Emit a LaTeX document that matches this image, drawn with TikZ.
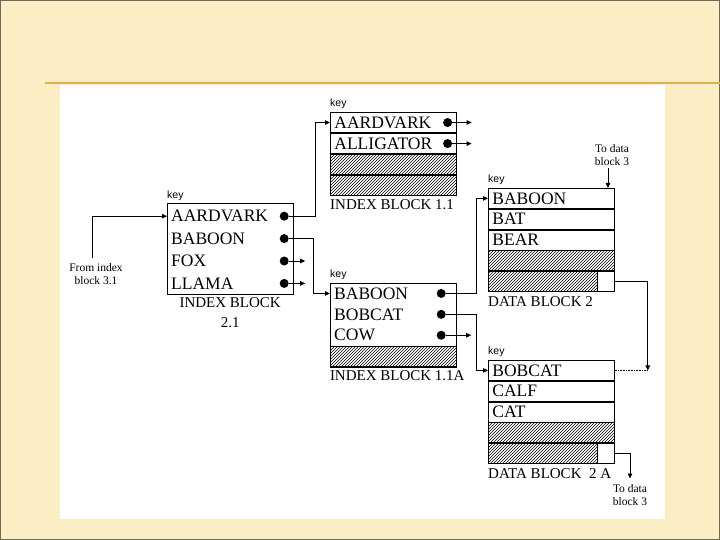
\documentclass[tikz,border=0pt]{standalone}
\usepackage{fontspec}
\setmainfont{Liberation Serif}
\setsansfont{Liberation Sans}
\usepackage{tikz}
\usetikzlibrary{positioning,arrows.meta,patterns}
\definecolor{slidecream}{HTML}{FBEDC4}
\definecolor{slideedge}{HTML}{6F6A55}
\definecolor{slideline}{HTML}{E6AE52}

\begin{document}
\begin{tikzpicture}[
    x=1pt, y=-1pt,
    node distance=0pt,
    row/.style={minimum width=126pt, minimum height=20pt, inner sep=0pt, text width=118pt, align=left, font=\fontsize{17.5}{17.5}\selectfont},
    cell/.style={row, draw, line width=0.8pt},
    hatch/.style={cell, pattern=north east lines},
    ptrbox/.style={draw, line width=0.8pt, fill=white, minimum width=17pt, minimum height=20pt, inner sep=0pt},
    dot/.style={circle, fill=black, inner sep=0pt, minimum size=9pt},
    keylbl/.style={font=\sffamily\fontsize{10.5}{10.5}\selectfont, inner sep=0pt},
    blocklbl/.style={font=\fontsize{15}{20}\selectfont, inner sep=0pt, align=center},
    note/.style={font=\fontsize{11.5}{12.5}\selectfont, inner sep=0pt, align=center},
    arrow/.style={-{Triangle[length=5pt, width=4.5pt]}, line width=0.8pt}
]

% slide
\useasboundingbox (0,0) rectangle (720,540);
\fill[slidecream] (0,0) rectangle (720,540);
\draw[slideedge, line width=2pt] (0,0) rectangle (720,540);
\draw[slideline, line width=1.2pt] (45,83) -- (720,83);
\fill[white] (60,85) rectangle (665,519);

% index block 2.1
\node[row, minimum height=22pt, anchor=north west] (i21a) at (167,205) {AARDVARK};
\node[row, minimum height=22pt, below=of i21a] (i21b) {BABOON};
\node[row, minimum height=22pt, below=of i21b] (i21c) {FOX};
\node[row, minimum height=22pt, below=of i21c] (i21d) {LLAMA};
\draw[line width=0.8pt] ([yshift=2pt]i21a.north west) rectangle (i21d.south east);
\node[keylbl, above right=4pt and 0pt of i21a.north west] (k21) {key};
\node[blocklbl, below=3pt of i21d] (l21) {INDEX BLOCK\\2.1};
\node[dot, left=4.5pt of i21a.east] (i21a-dot) {};
\node[dot, left=4.5pt of i21b.east] (i21b-dot) {};
\node[dot, left=4.5pt of i21c.east] (i21c-dot) {};
\node[dot, left=4.5pt of i21d.east] (i21d-dot) {};
\node[note] (from31) at (96,274) {From index\\block 3.1};

% index block 1.1
\node[cell, minimum height=20.25pt, anchor=north west] (i11a) at (330,112) {AARDVARK};
\node[cell, minimum height=20.25pt, below=of i11a] (i11b) {ALLIGATOR};
\node[hatch, minimum height=20.25pt, below=of i11b] (i11c) {};
\node[hatch, minimum height=20.25pt, below=of i11c] (i11d) {};
\node[keylbl, above right=3pt and 0pt of i11a.north west] (k11) {key};
\node[blocklbl, below right=3pt and 0pt of i11d.south west] (l11) {INDEX BLOCK 1.1};
\node[dot, left=4.5pt of i11a.east] (i11a-dot) {};
\node[dot, left=4.5pt of i11b.east] (i11b-dot) {};

% index block 1.1A
\node[row, minimum height=20.5pt, anchor=north west] (i1Aa) at (330,283) {BABOON};
\node[row, minimum height=20.5pt, below=of i1Aa] (i1Ab) {BOBCAT};
\node[row, minimum height=20.5pt, below=of i1Ab] (i1Ac) {COW};
\node[hatch, minimum height=20.5pt, below=of i1Ac] (i1Ad) {};
\draw[line width=0.8pt] (i1Aa.north west) rectangle (i1Ad.south east);
\node[keylbl, above right=3pt and 0pt of i1Aa.north west] (k1A) {key};
\node[blocklbl, below right=3pt and 0pt of i1Ad.south west] (l1A) {INDEX BLOCK 1.1A};
\node[dot, left=10.5pt of i1Aa.east] (i1Aa-dot) {};
\node[dot, left=10.5pt of i1Ab.east] (i1Ab-dot) {};
\node[dot, left=10.5pt of i1Ac.east] (i1Ac-dot) {};

% data block 2
\node[cell, anchor=north west] (d2a) at (488,188) {BABOON};
\node[cell, below=of d2a] (d2b) {BAT};
\node[cell, below=of d2b] (d2c) {BEAR};
\node[hatch, below=of d2c] (d2d) {};
\node[hatch, below=of d2d] (d2e) {};
\node[ptrbox, anchor=east] (d2ptr) at (d2e.east) {};
\node[keylbl, above right=3pt and 0pt of d2a.north west] (k2) {key};
\node[blocklbl, below right=4pt and 0pt of d2e.south west] (l2) {DATA BLOCK 2};
\node[note] (to3a) at (612,155) {To data\\block 3};

% data block 2 A
\node[cell, anchor=north west] (d2Aa) at (488,360) {BOBCAT};
\node[cell, below=of d2Aa] (d2Ab) {CALF};
\node[cell, below=of d2Ab] (d2Ac) {CAT};
\node[hatch, below=of d2Ac] (d2Ad) {};
\node[hatch, below=of d2Ad] (d2Ae) {};
\node[ptrbox, anchor=east] (d2Aptr) at (d2Ae.east) {};
\node[keylbl, above right=3pt and 0pt of d2Aa.north west] (k2A) {key};
\node[blocklbl, below right=4pt and 0pt of d2Ae.south west] (l2A) {DATA BLOCK\enspace 2 A};
\node[note] (to3b) at (630,495) {To data\\block 3};

% pointers
\draw[arrow] ([xshift=-4pt,yshift=5pt]from31.north) |- (i21a.west);
\draw[arrow] (i21a-dot) -- ++(31,0) |- (i11a.west);
\draw[arrow] (i21b-dot) -- ++(29,0) |- (i1Aa.west);
\draw[arrow] (i21c-dot) -- ++(21,0);
\draw[arrow] (i21d-dot) -- ++(21,0);
\draw[arrow] (i11a-dot) -- ++(24,0);
\draw[arrow] (i11b-dot) -- ++(24,0);
\draw[arrow] (i1Aa-dot) -- ++(35,0) |- (d2a.west);
\draw[arrow] (i1Ab-dot) -- ++(35,0) |- (d2Aa.west);
\draw[arrow] (i1Ac-dot) -- ++(30,0);
\coordinate (to3a-foot) at ([xshift=-4pt,yshift=-3pt]to3a.south);
\draw[arrow] (to3a-foot) -- (to3a-foot |- d2a.north);
\coordinate (turn2) at ([xshift=33pt]d2ptr.east);
\draw[arrow] (d2ptr.east) -- (turn2) -- (turn2 |- d2Aa.east);
\draw[densely dotted, line width=0.6pt] (d2Aa.east) -- (turn2 |- d2Aa.east);
\draw[arrow] (d2Aptr.east) -| ([yshift=6pt]to3b.north);

\end{tikzpicture}
\end{document}
